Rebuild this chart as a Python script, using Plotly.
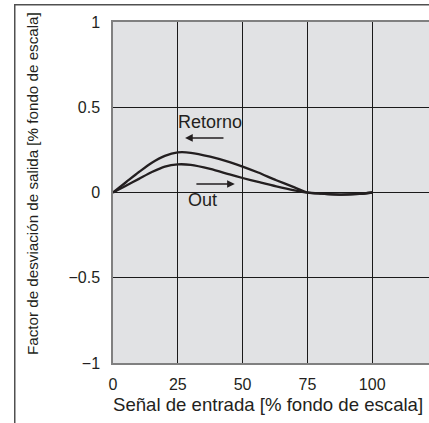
import plotly.graph_objects as go

# Input signal [% full scale]
signal = [0, 5, 10, 15, 20, 25, 30, 37.5, 45, 50, 56, 63, 70, 75, 80, 87.5, 95, 100]
# Output deviation [% full scale] for the return (decreasing) direction
retorno = [0, 0.06, 0.12, 0.175, 0.215, 0.235, 0.233, 0.21, 0.178, 0.152, 0.117, 0.072, 0.03,
           0, -0.006, -0.012, -0.008, 0]
# Output deviation for the outgoing (increasing) direction
out = [0, 0.04, 0.08, 0.12, 0.152, 0.165, 0.162, 0.138, 0.106, 0.085, 0.062, 0.036, 0.013,
       0, -0.006, -0.012, -0.008, 0]

x_ticks = [0, 25, 50, 75, 100]
y_ticks = [-1, -0.5, 0, 0.5, 1]
y_tick_text = ["\u22121", "\u22120.5", "0", "0.5", "1"]

FONT = "Liberation Sans, Arial, Helvetica, sans-serif"
INK = "#231f20"
W, H = 429, 423
ML, MT, MB, MR = 113, 22, 60, 0
PW, PH = W - ML - MR, H - MT - MB


def px_x(px):
    return (px - ML) / PW


def px_y(py):
    return (H - MB - py) / PH


fig = go.Figure()
fig.add_trace(go.Scatter(x=signal, y=retorno, mode="lines", name="Retorno",
                         line=dict(color=INK, width=2.3, shape="spline", smoothing=0.8)))
fig.add_trace(go.Scatter(x=signal, y=out, mode="lines", name="Out",
                         line=dict(color=INK, width=2.3, shape="spline", smoothing=0.8)))

# Outer frame around the figure: an empty bordered box whose right and bottom
# edges run off the page
fig.add_annotation(xref="paper", yref="paper", x=px_x(13.5), y=px_y(3.5),
                   xanchor="left", yanchor="top", text=" ", showarrow=False,
                   width=440, height=440, bordercolor="#505050", borderwidth=1.5,
                   borderpad=0, font=dict(size=2))

# Direction labels and arrows
fig.add_annotation(x=37.6, y=0.414, text="Retorno", showarrow=False,
                   font=dict(family=FONT, size=18, color=INK))
fig.add_annotation(x=27.8, y=0.32, ax=43.2, ay=0.32, xref="x", yref="y", axref="x", ayref="y",
                   text="", showarrow=True, arrowhead=2, arrowsize=1.1, arrowwidth=1.4,
                   arrowcolor=INK)
fig.add_annotation(x=34.7, y=-0.044, text="Out", showarrow=False,
                   font=dict(family=FONT, size=18, color=INK))
fig.add_annotation(x=47.0, y=0.05, ax=31.6, ay=0.05, xref="x", yref="y", axref="x", ayref="y",
                   text="", showarrow=True, arrowhead=2, arrowsize=1.1, arrowwidth=1.4,
                   arrowcolor=INK)

# Axis titles
fig.add_annotation(xref="paper", yref="paper", x=px_x(268), y=px_y(405),
                   text="Señal de entrada [% fondo de escala]", showarrow=False,
                   xanchor="center", yanchor="middle",
                   font=dict(family=FONT, size=18.6, color=INK))
fig.add_annotation(xref="paper", yref="paper", x=px_x(32), y=px_y(184),
                   text="Factor de desviación de salida [% fondo de escala]", showarrow=False,
                   textangle=-90, xanchor="center", yanchor="middle",
                   font=dict(family=FONT, size=15.2, color=INK))

fig.update_xaxes(range=[0, PW / (64.8 / 25)], tickvals=x_ticks,
                 showgrid=True, gridcolor="#1a1a1a", gridwidth=1.2,
                 zeroline=False, showline=True, linecolor="#808080", linewidth=1.5,
                 mirror=True, ticks="", ticklabelstandoff=6,
                 tickfont=dict(family=FONT, size=16, color=INK))
fig.update_yaxes(range=[-1, 1], tickvals=y_ticks, ticktext=y_tick_text,
                 showgrid=True, gridcolor="#1a1a1a", gridwidth=1.2,
                 zeroline=False, showline=True, linecolor="#808080", linewidth=1.5,
                 ticks="", ticklabelstandoff=8,
                 tickfont=dict(family=FONT, size=16, color=INK))

fig.update_layout(width=W, height=H, margin=dict(l=ML, r=MR, t=MT, b=MB),
                  plot_bgcolor="#e1e2e4", paper_bgcolor="white", showlegend=False)

fig.write_html("out.html")
